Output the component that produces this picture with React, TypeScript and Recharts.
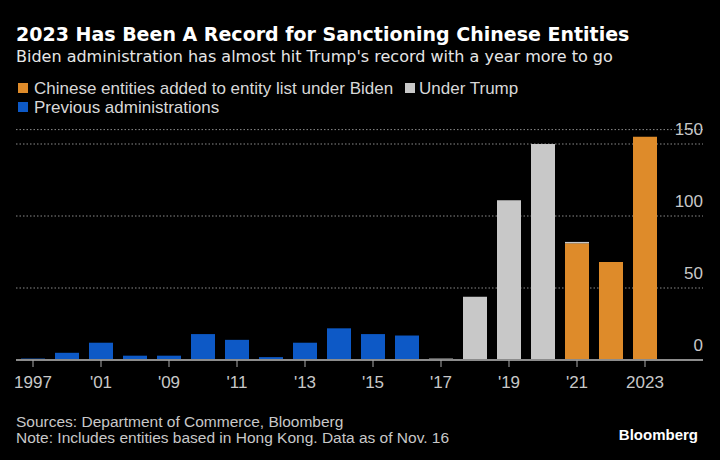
import { BarChart, Bar, XAxis, YAxis, CartesianGrid } from 'recharts';

// Chinese entities added to the US entity list, by year
const years = [
  '1997', '1999', '2001', '2005', '2009', '2010', '2011', '2012', '2013', '2014',
  '2015', '2016', '2017', '2018', '2019', '2020', '2021', '2022', '2023',
];
const previous = [1, 5, 12, 3, 3, 18, 14, 2, 12, 22, 18, 17, null, null, null, null, null, null, null];
const trump = [null, null, null, null, null, null, null, null, null, null, null, null, 1, 44, 111, 150, 1, null, null];
const biden = [null, null, null, null, null, null, null, null, null, null, null, null, null, null, null, null, 81, 68, 155];
const yTicks = [0, 50, 100, 150];

const BLUE = '#0D59C6';
const GRAY = '#C8C8C8';
const ORANGE = '#DE8B2A';

const NARROW = '"Liberation Sans Narrow", "Liberation Sans", sans-serif';
const DEJAVU = '"DejaVu Sans", sans-serif';

const chartData = years.map((year, i) => ({
  year,
  previous: previous[i],
  trump: trump[i],
  biden: biden[i],
}));

function yearLabel(year: string) {
  if (year === '1997' || year === '2023') return year;
  return "'" + year.slice(2);
}

function renderYTick(props: any) {
  const { y, payload } = props;
  return (
    <text x={703} y={y - 9} textAnchor="end" fill="#c8c8c8" fontSize={17} fontFamily={NARROW}>
      {payload.value}
    </text>
  );
}

export default function App() {
  return (
    <div style={{ position: 'relative', width: 720, height: 460, background: '#000', overflow: 'hidden' }}>
      <style>{'body{margin:0;background:#000}'}</style>

      <div style={{ position: 'absolute', left: 0, top: 0 }}>
        <BarChart
          width={720}
          height={400}
          data={chartData}
          margin={{ top: 129.6, right: 16, left: 16, bottom: 10 }}
        >
          <CartesianGrid vertical={false} stroke="#8a8a8a" strokeDasharray="1.5 2" />
          <XAxis
            dataKey="year"
            interval={1}
            height={30}
            padding={{ left: 0, right: 41 }}
            tickFormatter={yearLabel}
            axisLine={{ stroke: '#8c8c8c', strokeWidth: 2 }}
            tickLine={{ stroke: '#aaa' }}
            tickSize={7}
            tickMargin={9}
            tick={{ fill: '#c8c8c8', fontSize: 17, fontFamily: NARROW }}
          />
          <YAxis
            orientation="right"
            domain={[0, 160]}
            ticks={yTicks}
            width={1}
            axisLine={false}
            tickLine={false}
            tick={renderYTick}
          />
          <Bar dataKey="previous" stackId="a" fill={BLUE} barSize={24} isAnimationActive={false} />
          <Bar dataKey="biden" stackId="a" fill={ORANGE} barSize={24} isAnimationActive={false} />
          <Bar dataKey="trump" stackId="a" fill={GRAY} barSize={24} isAnimationActive={false} />
        </BarChart>
      </div>

      <svg
        width={720}
        height={460}
        style={{ position: 'absolute', left: 0, top: 0, pointerEvents: 'none' }}
      >
        <text x={16} y={41} fill="#fff" fontSize={19} fontWeight="bold" fontFamily={DEJAVU}>
          2023 Has Been A Record for Sanctioning Chinese Entities
        </text>
        <text x={16} y={62} fill="#e6e6e6" fontSize={16} fontFamily={DEJAVU}>
          Biden administration has almost hit Trump's record with a year more to go
        </text>

        <rect x={18} y={83} width={10} height={10} fill={ORANGE} />
        <text x={34} y={93.5} fill="#d8d8d8" fontSize={17} fontFamily={NARROW}>
          Chinese entities added to entity list under Biden
        </text>
        <rect x={405} y={83} width={10} height={10} fill={GRAY} />
        <text x={419} y={93.5} fill="#d8d8d8" fontSize={17} fontFamily={NARROW}>
          Under Trump
        </text>
        <rect x={18} y={102} width={10} height={10} fill={BLUE} />
        <text x={34} y={112.5} fill="#d8d8d8" fontSize={17} fontFamily={NARROW}>
          Previous administrations
        </text>

        <text x={16} y={427} fill="#c8c8c8" fontSize={15.5} fontFamily={NARROW}>
          Sources: Department of Commerce, Bloomberg
        </text>
        <text x={16} y={443} fill="#c8c8c8" fontSize={15.5} fontFamily={NARROW}>
          Note: Includes entities based in Hong Kong. Data as of Nov. 16
        </text>
        <text x={698} y={440} textAnchor="end" fill="#fff" fontSize={15} fontWeight="bold" fontFamily='"Liberation Sans", sans-serif'>
          Bloomberg
        </text>
      </svg>
    </div>
  );
}
